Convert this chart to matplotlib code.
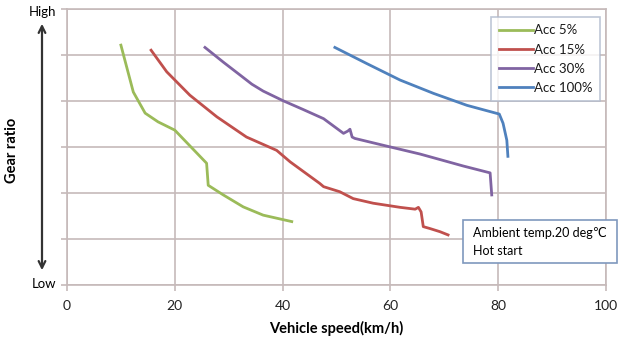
import matplotlib.pyplot as plt
from matplotlib.patches import Rectangle

plt.rcParams['font.family'] = ['Lato', 'DejaVu Sans']

# data (y is in grid steps, 0 = Low, 6 = High)
acc5_x = [10.0, 12.3, 14.5, 16.9, 20.0, 25.9, 26.2, 29.0, 32.7, 36.4, 41.7]
acc5_y = [5.22, 4.20, 3.74, 3.55, 3.37, 2.65, 2.17, 1.96, 1.70, 1.52, 1.38]

acc15_x = [15.6, 18.5, 22.8, 27.8, 33.3, 38.9, 41.4, 46.9, 47.6, 50.6, 53.1,
           56.8, 61.8, 64.6, 65.2, 65.7, 66.1, 67.3, 69.2, 70.7]
acc15_y = [5.11, 4.64, 4.13, 3.66, 3.22, 2.93, 2.68, 2.21, 2.14, 2.03, 1.88,
           1.78, 1.69, 1.65, 1.69, 1.59, 1.27, 1.23, 1.16, 1.09]

acc30_x = [25.6, 29.0, 32.1, 34.3, 36.4, 40.1, 43.8, 47.6, 51.3, 52.1, 52.5, 52.9,
           53.4, 58.7, 65.5, 69.2, 73.5, 78.5, 78.8]
acc30_y = [5.17, 4.85, 4.57, 4.37, 4.22, 4.01, 3.82, 3.62, 3.30, 3.35, 3.39, 3.22,
           3.19, 3.04, 2.85, 2.73, 2.59, 2.44, 1.96]

acc100_x = [49.7, 55.6, 61.8, 68.0, 74.2, 80.2, 80.9, 81.6, 81.8]
acc100_y = [5.17, 4.82, 4.46, 4.17, 3.91, 3.72, 3.52, 3.15, 2.80]

labels = ['Acc 5%', 'Acc 15%', 'Acc 30%', 'Acc 100%']
colors = ['#9BBB59', '#C0504D', '#8064A2', '#4F81BD']

fig = plt.figure(figsize=(6.21, 3.42), dpi=100)
ax = fig.add_axes([67/621, 1 - 285/342, (606 - 67)/621, (285 - 9.3)/342])

grid_c = '#C6BABA'
series = [(acc5_x, acc5_y), (acc15_x, acc15_y), (acc30_x, acc30_y), (acc100_x, acc100_y)]
for (xs, ys), lab, c in zip(series, labels, colors):
    ax.plot(xs, ys, color=c, lw=2, label=lab, zorder=3)

ax.set_xlim(0, 100)
ax.set_ylim(0, 6)
ax.set_xticks([0, 20, 40, 60, 80, 100])
ax.set_yticks(range(7))
ax.set_yticklabels([])
ax.grid(True, color=grid_c, lw=1.2)
for s in ax.spines.values():
    s.set_color(grid_c)
    s.set_linewidth(1.2)
ax.tick_params(axis='both', color=grid_c, length=4, width=1.2, labelsize=10,
               labelcolor='#222222')
ax.tick_params(axis='x', pad=7)
ax.set_xlabel('Vehicle speed(km/h)', fontsize=10.5, fontweight='bold', labelpad=6)

leg = ax.legend(loc='upper right', bbox_to_anchor=(0.989, 0.972), fontsize=9.5,
                frameon=True, fancybox=False, edgecolor='#AEB9CC', handlelength=2.6,
                handletextpad=0.1, labelspacing=0.55, borderpad=0.55,
                borderaxespad=0)
leg.get_frame().set_linewidth(1.2)
for t in leg.get_texts():
    t.set_color('#1a1a1a')

# y-axis decoration
fig.text(42/621, 1 - 12/342, 'High', ha='center', va='center', fontsize=9.5)
fig.text(44/621, 1 - 284/342, 'Low', ha='center', va='center', fontsize=9.5)
fig.text(12/621, 1 - 150/342, 'Gear ratio', rotation=90, ha='center', va='center',
         fontsize=10.5, fontweight='bold')
ax.annotate('', xy=(42/621, 1 - 21/342), xytext=(42/621, 1 - 273/342),
            xycoords='figure fraction', textcoords='figure fraction',
            arrowprops=dict(arrowstyle='<->', color='#333333', lw=1.6,
                            mutation_scale=12))

# note box
fig.patches.append(Rectangle((463/621, 1 - 263/342), 154/621, 43/342,
                             transform=fig.transFigure, facecolor='white',
                             edgecolor='#7F98BD', lw=1.2, zorder=5))
fig.text(473/621, 1 - 233/342, 'Ambient temp.20 deg\u2103', ha='left', va='center',
         fontsize=9, zorder=6)
fig.text(473/621, 1 - 251/342, 'Hot start', ha='left', va='center',
         fontsize=9, zorder=6)

fig.savefig('out.png', dpi=100)
